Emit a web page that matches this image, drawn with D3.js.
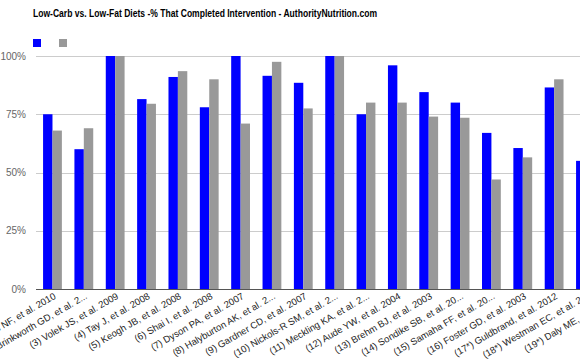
<!DOCTYPE html>
<html>
<head>
<meta charset="utf-8">
<script src="https://cdn.jsdelivr.net/npm/d3@7"></script>
<style>
  html, body { margin: 0; padding: 0; background: #fff; }
  svg { display: block; }
  text { font-family: "Liberation Sans", Arial, sans-serif; }
</style>
</head>
<body>
<svg id="chart" width="580" height="359"></svg>
<script>
const categories = [
  "(1) Krebs NF, et al. 2010",
  "(2) Brinkworth GD, et al. 2...",
  "(3) Volek JS, et al. 2009",
  "(4) Tay J, et al. 2008",
  "(5) Keogh JB, et al. 2008",
  "(6) Shai I, et al. 2008",
  "(7) Dyson PA, et al. 2007",
  "(8) Halyburton AK, et al. 2...",
  "(9) Gardner CD, et al. 2007",
  "(10) Nickols-R SM, et al. 2...",
  "(11) Meckling KA, et al. 2...",
  "(12) Aude YW, et al. 2004",
  "(13) Brehm BJ, et al. 2003",
  "(14) Sondike SB, et al. 20...",
  "(15) Samaha FF, et al. 20...",
  "(16) Foster GD, et al. 2003",
  "(17*) Guldbrand, et al. 2012",
  "(18*) Westman EC, et al. 2...",
  "(19*) Daly ME, et al. 2006"
];
const lowCarb = [75, 60, 100, 81.5, 91, 78, 100, 91.5, 88.5, 100, 75, 96, 84.5, 80, 67, 60.5, 86.5, 55, 80];
const lowFat  = [68, 69, 100, 79.5, 93.5, 90, 71, 97.5, 77.5, 100, 80, 80, 74, 73.5, 47, 56.5, 90, 60, 75];
const yTicks = [0, 25, 50, 75, 100];
const seriesKeys = ["lowCarb", "lowFat"];
const seriesColors = ["#0000ff", "#999999"];
const title = "Low-Carb vs. Low-Fat Diets -% That Completed Intervention - AuthorityNutrition.com";

const data = categories.map((c, i) => ({ cat: c, lowCarb: lowCarb[i], lowFat: lowFat[i] }));

const svg = d3.select("#chart");
const W = 580;

const x = d3.scaleBand().domain(categories).range([36.8, 632.5]).paddingInner(0.4).paddingOuter(0.2);
const xs = d3.scaleBand().domain(seriesKeys).range([0, x.bandwidth()]);
const y = d3.scaleLinear().domain([0, 100]).range([289, 56]);
const color = d3.scaleOrdinal().domain(seriesKeys).range(seriesColors);

// title
svg.append("text")
  .attr("x", 33).attr("y", 16.5)
  .attr("font-size", 10).attr("font-weight", "bold").attr("fill", "#000")
  .attr("textLength", 344).attr("lengthAdjust", "spacingAndGlyphs")
  .text(title);

// legend
svg.selectAll("rect.legend").data(seriesKeys).enter().append("rect")
  .attr("class", "legend")
  .attr("x", (d, i) => 33 + i * 26).attr("y", 39)
  .attr("width", 8).attr("height", 8)
  .attr("fill", d => color(d));

// gridlines
svg.append("g").selectAll("line").data(yTicks.filter(t => t > 0)).enter().append("line")
  .attr("x1", 36).attr("x2", W)
  .attr("y1", d => Math.round(y(d)) + 0.5).attr("y2", d => Math.round(y(d)) + 0.5)
  .attr("stroke", "#cccccc").attr("stroke-width", 1);

// y labels
svg.append("g").selectAll("text").data(yTicks).enter().append("text")
  .attr("x", 26).attr("y", d => y(d) + 3.5)
  .attr("text-anchor", "end").attr("font-size", 10).attr("fill", "#666")
  .text(d => d + "%");

// bars
const groups = svg.append("g").selectAll("g").data(data).enter().append("g")
  .attr("transform", d => `translate(${x(d.cat)},0)`);
groups.selectAll("rect").data(d => seriesKeys.map(k => ({ key: k, value: d[k] }))).enter().append("rect")
  .attr("x", d => xs(d.key)).attr("width", xs.bandwidth())
  .attr("y", d => y(d.value)).attr("height", d => y(0) - y(d.value))
  .attr("fill", d => color(d.key));

// baseline
svg.append("line")
  .attr("x1", 36).attr("x2", W).attr("y1", 289.5).attr("y2", 289.5)
  .attr("stroke", "#555").attr("stroke-width", 1);

// x labels
svg.append("g").selectAll("text").data(categories).enter().append("text")
  .attr("transform", d => `translate(${x(d) + x.bandwidth() / 2 + 4},${298}) rotate(-30)`)
  .attr("text-anchor", "end").attr("font-size", 9.5).attr("fill", "#222")
  .text(d => d);
</script>
</body>
</html>
